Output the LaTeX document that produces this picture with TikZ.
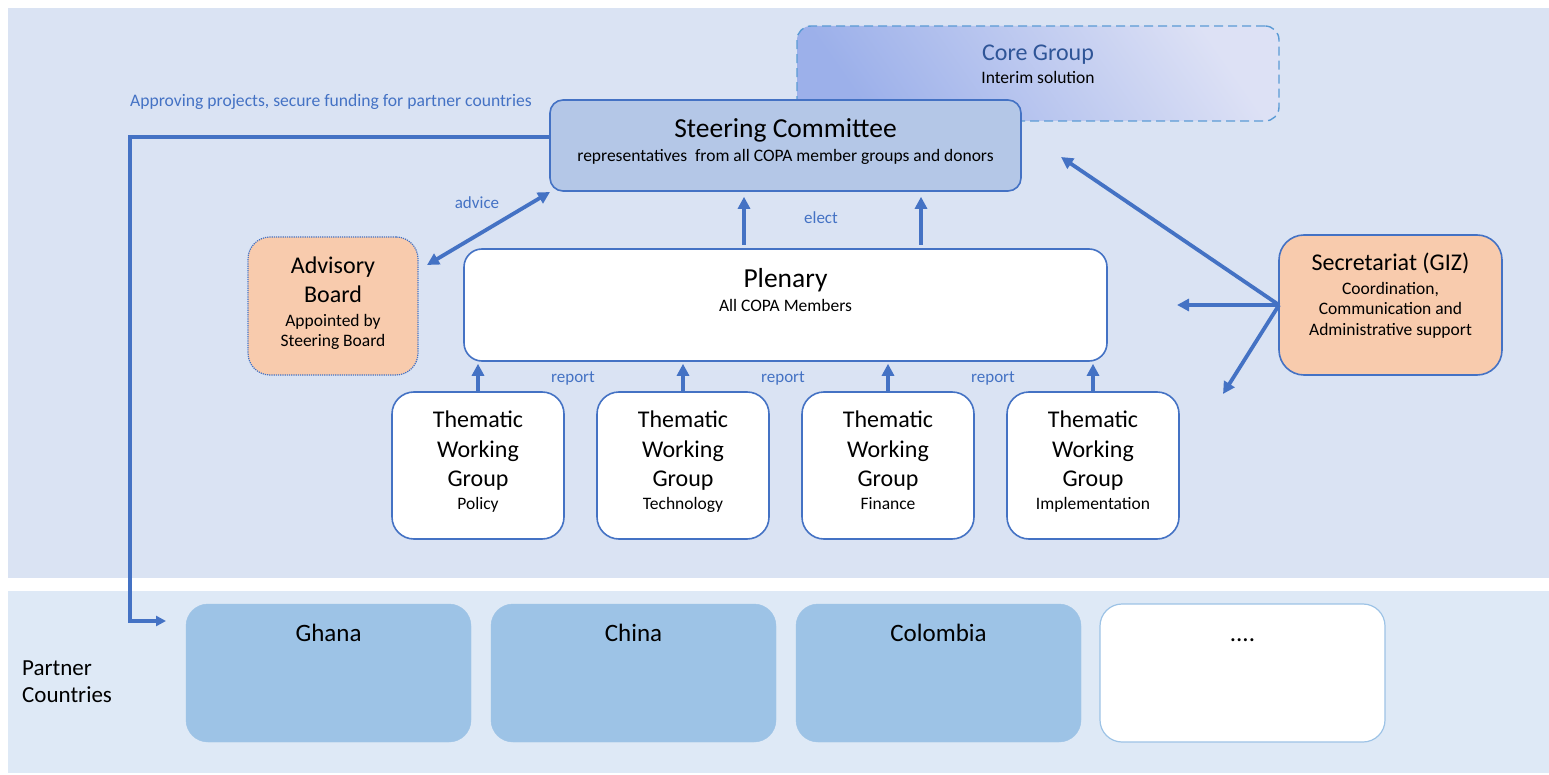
\documentclass[tikz,border=0pt]{standalone}
\usepackage{fontspec}
\setmainfont{Carlito}
\usetikzlibrary{arrows.meta}
\definecolor{bgtop}{HTML}{DAE3F3}
\definecolor{bgbot}{HTML}{DEE9F6}
\definecolor{lineblue}{HTML}{4472C4}
\definecolor{steerfill}{HTML}{B4C7E7}
\definecolor{orangefill}{HTML}{F8CBAD}
\definecolor{partnerfill}{HTML}{9DC3E6}
\definecolor{coreA}{HTML}{9CB0EA}
\definecolor{coreB}{HTML}{DDE1F5}
\definecolor{coredash}{HTML}{5B9BD5}
\definecolor{coretext}{HTML}{2F5597}
\newcommand{\fsz}[1]{\fontsize{#1}{#1}\selectfont}
\begin{document}
\begin{tikzpicture}[x=1pt,y=-1pt,
  box/.style={draw=lineblue, line width=1.6pt, inner sep=0pt},
  arr/.style={draw=lineblue, line width=3.8pt, -{Triangle[length=12pt,width=12pt]}},
  darr/.style={draw=lineblue, line width=3.8pt, {Triangle[length=12pt,width=12pt]}-{Triangle[length=12pt,width=12pt]}},
  txt/.style={anchor=base, inner sep=0pt, text=black},
  lbl/.style={anchor=base, inner sep=0pt, text=lineblue, font=\fsz{17}},
  big/.style={font=\fsz{27.5}},
  mid/.style={font=\fsz{24}},
  sub/.style={font=\fsz{17.5}}
]
\useasboundingbox (0,0) rectangle (1549,775);
% backgrounds
\fill[bgtop] (8,8) rectangle (1549,578);
\fill[bgbot] (8,591) rectangle (1549,773);

% Core Group
\node[draw=coredash, line width=1.4pt, dash pattern=on 9pt off 5pt, rounded corners=14pt,
  left color=coreA, right color=coreB, shading angle=125,
  minimum width=482pt, minimum height=95pt, inner sep=0pt] (core) at (1038,73.5) {};
\node[txt, font=\fsz{24}, text=coretext] (coret) at (1038,60.7) {Core Group};
\node[txt, sub] (cores) at (1038,83.6) {Interim solution};

% Steering Committee
\node[box, fill=steerfill, rounded corners=13pt, minimum width=471pt, minimum height=91pt] (steer) at (785.5,145.5) {};
\node[txt, big] (steert) at (785.5,138) {Steering Committee};
\node[txt, sub] (steers) at (785.5,161.6) {representatives\ \ from all COPA member groups and donors};

% Approving label
\node[lbl, font=\fsz{17.6}] (applbl) at (331,106.5) {Approving projects, secure funding for partner countries};

% Advisory board
\node[draw=lineblue, line width=1.2pt, densely dotted, fill=orangefill, rounded corners=22pt,
  minimum width=170pt, minimum height=138pt, inner sep=0pt] (adv) at (333,306) {};
\node[txt, mid] (advt1) at (333,273.7) {Advisory};
\node[txt, mid] (advt2) at (333,302.7) {Board};
\node[txt, sub] (advs1) at (333,326.6) {Appointed by};
\node[txt, sub] (advs2) at (333,346.6) {Steering Board};

% Plenary
\node[box, fill=white, rounded corners=18pt, minimum width=643pt, minimum height=112pt] (plen) at (785.5,305) {};
\node[txt, big] (plent) at (785.5,288) {Plenary};
\node[txt, sub] (plens) at (785.5,311.6) {All COPA Members};

% Secretariat
\node[box, fill=orangefill, rounded corners=25pt, minimum width=223pt, minimum height=140pt] (sec) at (1390.5,305) {};
\node[txt, mid] (sect) at (1390.5,270.7) {Secretariat (GIZ)};
\node[txt, sub] (secs1) at (1390.5,294.6) {Coordination,};
\node[txt, sub] (secs2) at (1390.5,314.6) {Communication and};
\node[txt, sub] (secs3) at (1390.5,335.6) {Administrative support};

% Working groups
\foreach \i/\x/\s in {1/478/Policy, 2/683/Technology, 3/888/Finance, 4/1093/Implementation}{
  \node[box, fill=white, rounded corners=22pt, minimum width=172pt, minimum height=147pt] (wg\i) at (\x,465.5) {};
  \node[txt, mid] (wg\i a) at (\x,427.7) {Thematic};
  \node[txt, mid] (wg\i b) at (\x,457.7) {Working};
  \node[txt, mid] (wg\i c) at (\x,486.7) {Group};
  \node[txt, sub] (wg\i s) at (\x,509.6) {\s};
  \draw[arr] (wg\i.north) -- ([yshift=-2pt]wg\i.north |- plen.south);
}
\node[lbl] (rep1) at (573,382.5) {report};
\node[lbl] (rep2) at (783,382.5) {report};
\node[lbl] (rep3) at (993,382.5) {report};

% elect arrows
\coordinate (el1) at (744,245);
\coordinate (el2) at (921,245);
\draw[arr] (el1) -- ([yshift=-5pt]el1 |- steer.south);
\draw[arr] (el2) -- ([yshift=-5pt]el2 |- steer.south);
\node[lbl] (electlbl) at (821,223.5) {elect};

% advice
\coordinate (advtip) at (427,265);
\coordinate (steertip) at (550,192);
\draw[darr] (advtip) -- (steertip);
\node[lbl] (advlbl) at (477,208.5) {advice};

% secretariat arrows
\coordinate (secl) at (1279,305);
\coordinate (sec1) at (1061,157);
\coordinate (sec2) at (1177,305);
\coordinate (sec3) at (1223,394);
\draw[arr] (secl) -- (sec1);
\draw[arr] (secl) -- (sec2);
\draw[arr] (secl) -- (sec3);

% Partner countries
\node[fill=partnerfill, draw=partnerfill, rounded corners=22pt, minimum width=285pt, minimum height=138pt, inner sep=0pt] (p1) at (328.5,673) {};
\node[fill=partnerfill, draw=partnerfill, rounded corners=22pt, minimum width=285pt, minimum height=138pt, inner sep=0pt] (p2) at (633.5,673) {};
\node[fill=partnerfill, draw=partnerfill, rounded corners=22pt, minimum width=285pt, minimum height=138pt, inner sep=0pt] (p3) at (938.5,673) {};
\node[fill=white, draw=partnerfill, line width=1.2pt, rounded corners=22pt, minimum width=285pt, minimum height=138pt, inner sep=0pt] (p4) at (1242.5,673) {};
\node[txt, font=\fsz{25}] (p1t) at (328.5,641) {Ghana};
\node[txt, font=\fsz{25}] (p2t) at (633.5,641) {China};
\node[txt, font=\fsz{25}] (p3t) at (938.5,641) {Colombia};
\node[txt, font=\fsz{25}] (p4t) at (1242.5,641) {....};
\node[anchor=base west, inner sep=0pt, font=\fsz{23}] (pc1) at (22,675.4) {Partner};
\node[anchor=base west, inner sep=0pt, font=\fsz{23}] (pc2) at (22,702.4) {Countries};

% approving line
\coordinate (apstart) at (550,137);
\coordinate (apc1) at (130,137);
\coordinate (apc2) at (130,621);
\coordinate (aptip) at (166,621);
\draw[draw=lineblue, line width=3.4pt, -{Triangle[length=10pt,width=10pt]}] (apstart) -- (apc1) -- (apc2) -- (aptip);
\end{tikzpicture}
\end{document}
